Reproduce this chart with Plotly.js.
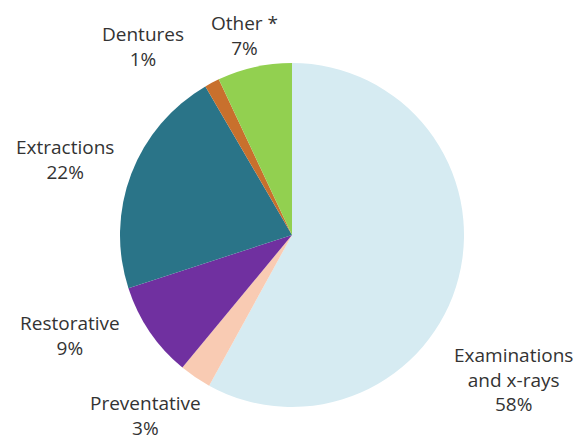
<!DOCTYPE html>
<html>
<head>
<meta charset="utf-8">
<script src="https://cdn.plot.ly/plotly-3.0.1.min.js"></script>
<style>html,body{margin:0;padding:0;background:#fff;}#chart{width:580px;height:443px;}</style>
</head>
<body>
<div id="chart"></div>
<script>
const categories = ["Examinations<br>and x-rays", "Preventative", "Restorative", "Extractions", "Dentures", "Other *"];
const values = [58, 3, 9, 21.6, 1.4, 7];
const colors = ["#d6ebf2", "#f9cbb3", "#7030a0", "#2a7488", "#c8702d", "#92d050"];

// label placement (pixel centres of each label block), layout only
const labelPos = [[513, 379], [145, 415], [70, 335], [65, 160], [143, 46], [244, 35]];

const W = 580, H = 443;
const trace = {
  type: "pie",
  labels: categories,
  values: values,
  sort: false,
  direction: "clockwise",
  rotation: 0,
  marker: {colors: colors, line: {width: 0}},
  textinfo: "none",
  hoverinfo: "label+value",
  showlegend: false,
  domain: {x: [120 / W, 464 / W], y: [1 - 407 / H, 1 - 63 / H]}
};

const total = values.reduce((a, b) => a + b, 0);
const annotations = categories.map((c, i) => ({
  text: c + "<br>" + Math.round(values[i] / total * 100) + "%",
  xref: "paper", yref: "paper",
  x: labelPos[i][0] / W, y: 1 - labelPos[i][1] / H,
  xanchor: "center", yanchor: "middle",
  align: "center",
  showarrow: false,
  font: {family: "Open Sans, sans-serif", size: 19, color: "#333333"}
}));

Plotly.newPlot("chart", [trace], {
  width: W, height: H,
  margin: {l: 0, r: 0, t: 0, b: 0},
  paper_bgcolor: "#ffffff",
  showlegend: false,
  annotations: annotations
}, {displayModeBar: false, staticPlot: true});
</script>
</body>
</html>
